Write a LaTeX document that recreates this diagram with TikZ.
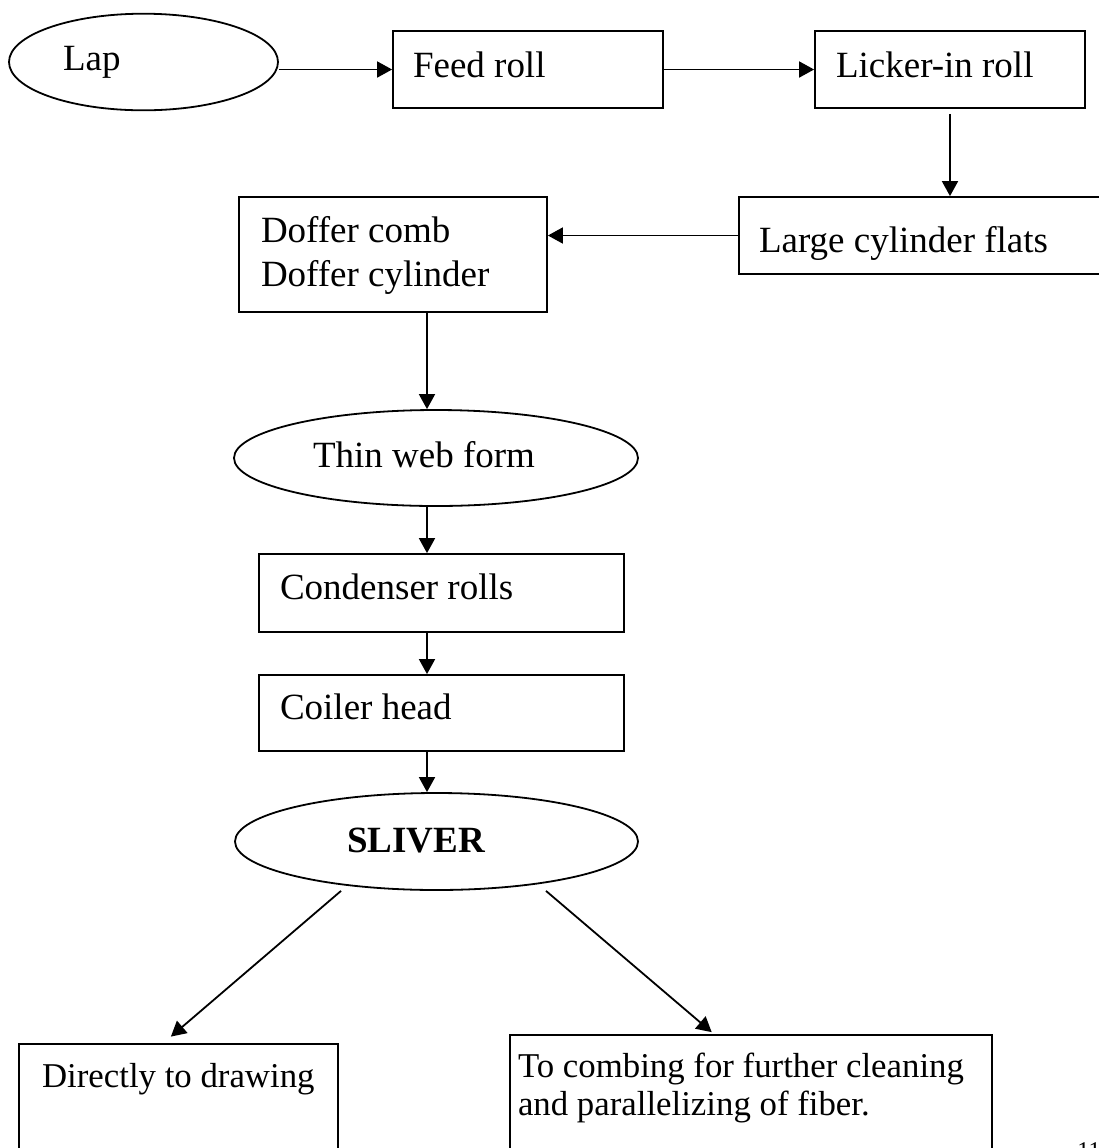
\documentclass[tikz,border=0pt]{standalone}
\usepackage{fontspec}
\setmainfont{Liberation Serif}
\usetikzlibrary{arrows.meta, shapes.geometric}

\begin{document}
\begin{tikzpicture}[x=0.5pt, y=-0.5pt,
    every node/.style={font=\fontsize{18.5}{22}\selectfont},
    stage/.style={draw, rectangle, line width=0.9pt, inner ysep=0pt, align=flush left, text depth=0pt},
    blob/.style={draw, ellipse, line width=0.9pt, inner sep=0pt, align=flush left, text depth=0pt},
    note/.style={font=\fontsize{17.4}{19}\selectfont},
    flow/.style={line width=0.9pt, -{Triangle[length=7.5pt, width=8pt]}}]
    \useasboundingbox (0,0) rectangle (1099,1148);

    % Top row
    \node at (143.5, 62) (Lap) [blob, minimum width=134.5pt, minimum height=48.3pt, text width=80.5pt, text height=8pt] {Lap};
    \node at (528, 69.5) (Feed) [stage, minimum width=135pt, minimum height=38.5pt, inner xsep=10pt, text width=115pt, text height=7.5pt] {Feed roll};
    \node at (950, 69.5) (Licker) [stage, minimum width=135pt, minimum height=38.5pt, inner xsep=10.5pt, text width=114pt, text height=7.5pt] {Licker-in roll};

    % Cylinder and doffer
    \node at (922, 235.5) (Large) [stage, minimum width=183pt, minimum height=38.5pt, inner xsep=10pt, text width=163pt, text height=16.5pt] {Large cylinder flats};
    \node at (393, 254.5) (Doffer) [stage, minimum width=154pt, minimum height=57.5pt, inner xsep=11pt, text width=132pt, text height=0pt, text depth=12.5pt] {Doffer comb\\Doffer cylinder};

    % Web down to sliver
    \node at (436, 458) (Thin) [blob, minimum width=202pt, minimum height=48pt, text width=123pt, text height=9pt] {Thin web form};
    \node at (441.5, 593) (Condenser) [stage, minimum width=182.5pt, minimum height=39pt, inner xsep=10.5pt, text width=161.5pt, text height=6pt] {Condenser rolls};
    \node at (441.5, 713) (Coiler) [stage, minimum width=182.5pt, minimum height=38pt, inner xsep=10.5pt, text width=161.5pt, text height=6pt] {Coiler head};
    \node at (436.5, 841.5) (Sliver) [blob, minimum width=201.5pt, minimum height=48.5pt, text width=89.5pt, text height=10.5pt, font=\fontsize{18.5}{22}\selectfont\bfseries] {SLIVER};

    % Where the sliver goes
    \node at (178.3, 1102) (Drawing) [stage, note, minimum width=159.7pt, minimum height=58pt, align=center, text height=0pt, text depth=15pt] {Directly to drawing};
    \node at (751, 1097.5) (Combing) [stage, note, minimum width=241pt, minimum height=62.5pt, inner xsep=4pt, text width=233pt, text height=0pt, text depth=20.5pt] {To combing for further cleaning\\and parallelizing of fiber.};
    \node at (1077, 1142) (pageno) [anchor=north west, inner sep=0pt, font=\fontsize{12}{14}\selectfont] {11};

    % Flow arrows
    \coordinate (spine) at (427, 0);
    \draw[flow] (Lap.east |- Feed.west) -- (Feed.west);
    \draw[flow] (Feed.east) -- (Licker.west);
    \draw[flow, shorten <=2.5pt] (Licker.south) -- (Licker.south |- Large.north);
    \draw[flow] (Large.west) -- (Large.west -| Doffer.east);
    \draw[flow] (Doffer.south -| spine) -- (Thin.north -| spine);
    \draw[flow] (Thin.south -| spine) -- (Condenser.north -| spine);
    \draw[flow] (Condenser.south -| spine) -- (Coiler.north -| spine);
    \draw[flow] (Coiler.south -| spine) -- (Sliver.north -| spine);
    \draw[flow, shorten >=5pt] ([xshift=-47.75pt]Sliver.south) -- ([xshift=-7.5pt]Drawing.north);
    \draw[flow, shorten >=1.5pt] ([xshift=54.75pt]Sliver.south) -- ([xshift=-18.5pt]Combing.north);
\end{tikzpicture}
\end{document}
